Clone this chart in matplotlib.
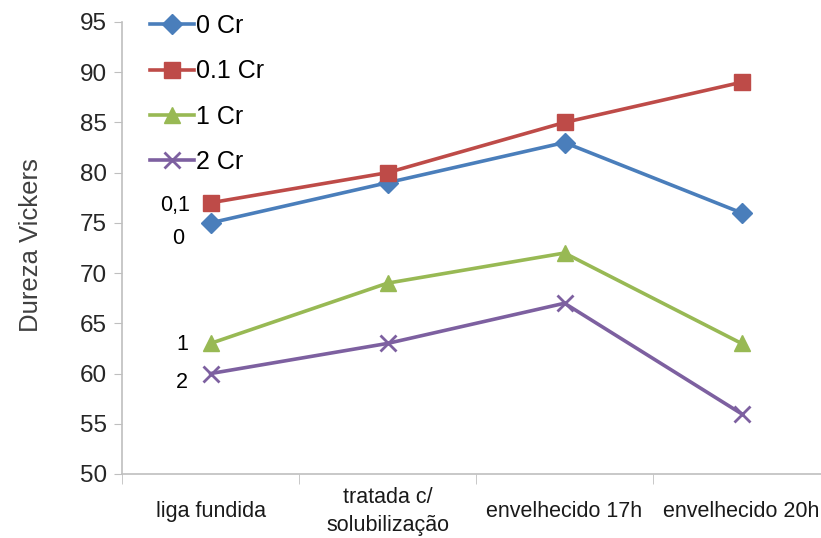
import matplotlib
matplotlib.use("Agg")
import matplotlib.pyplot as plt

plt.rcParams['font.family'] = ['Liberation Sans', 'DejaVu Sans']

categories = ["liga fundida", "tratada c/\nsolubilização", "envelhecido 17h", "envelhecido 20h"]
s0 = [75, 79, 83, 76]
s01 = [77, 80, 85, 89]
s1 = [63, 69, 72, 63]
s2 = [60, 63, 67, 56]
series_names = ["0 Cr", "0.1 Cr", "1 Cr", "2 Cr"]
yticks = [50, 55, 60, 65, 70, 75, 80, 85, 90, 95]

fig = plt.figure(figsize=(8.21, 5.38), dpi=100)
ax = fig.add_axes([122/821, 1-474/538, (830-122)/821, (474-22)/538])

x = list(range(len(categories)))
ax.plot(x, s0, color='#4A7EBB', lw=2.6, marker='D', ms=10, label=series_names[0])
ax.plot(x, s01, color='#BE4B48', lw=2.6, marker='s', ms=11, label=series_names[1])
ax.plot(x, s1, color='#98B954', lw=2.6, marker='^', ms=12, label=series_names[2])
ax.plot(x, s2, color='#7D60A0', lw=2.6, marker='x', ms=11, mew=2, label=series_names[3])

ax.set_xlim(-0.5, 3.5)
ax.set_ylim(50, 95)
ax.set_yticks(yticks)
ax.tick_params(axis='y', labelsize=17.5, length=6, color='#BFBFBF', labelcolor='#262626', pad=5)
ax.set_xticks(x)
ax.set_xticklabels(categories, fontsize=15.5, linespacing=1.4, va='center')
ax.tick_params(axis='x', length=0, pad=27, labelcolor='#1a1a1a')
ax.set_xticks([-0.5, 0.5, 1.5, 2.5, 3.5], minor=True)
ax.tick_params(axis='x', which='minor', length=7, color='#BFBFBF')
for s in ['top', 'right']:
    ax.spines[s].set_visible(False)
for s in ['left', 'bottom']:
    ax.spines[s].set_color('#BFBFBF')
    ax.spines[s].set_linewidth(1.2)

ax.set_ylabel("Dureza Vickers", fontsize=18.5, color='#404040')
ax.yaxis.set_label_coords(43/821, 1-245/538, transform=fig.transFigure)

fig.text(175/821, 1-205/538, "0,1", fontsize=15.5, ha='center', va='center')
fig.text(178/821, 1-238/538, "0", fontsize=15.5, ha='center', va='center')
fig.text(182/821, 1-345/538, "1", fontsize=15.5, ha='center', va='center')
fig.text(182/821, 1-383/538, "2", fontsize=15.5, ha='center', va='center')

leg = ax.legend(loc='upper left', bbox_to_anchor=(140/821, 1-4/538), bbox_transform=fig.transFigure,
                frameon=False, fontsize=18, labelspacing=0.85, handlelength=1.75, handletextpad=0.1,
                borderaxespad=0)

fig.savefig("out.png", dpi=100)
